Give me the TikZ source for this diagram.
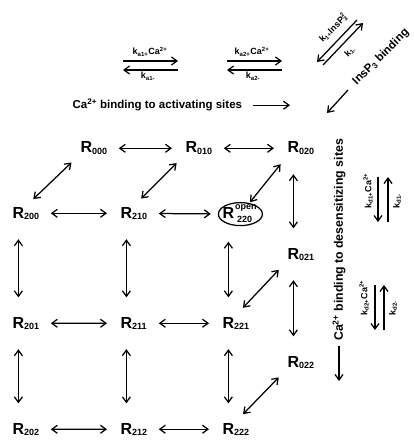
\documentclass[tikz,border=0pt]{standalone}
\usepackage{fontspec}
\setmainfont{Liberation Sans}
\usetikzlibrary{arrows.meta,shapes.geometric}
\newcommand{\rsub}[1]{R\rlap{\raisebox{-1.5pt}{\fontsize{9}{9}\selectfont #1}}}
\begin{document}
\begin{tikzpicture}[x=1pt, y=-1pt, line width=1.25pt,
  every node/.style={font=\bfseries, inner sep=2pt},
  state/.style={anchor=base west, font=\bfseries\fontsize{16}{18}\selectfont},
  rate/.style={font=\bfseries\fontsize{9}{10}\selectfont, inner sep=1pt},
  bigtext/.style={font=\bfseries\fontsize{11.5}{13}\selectfont},
  both/.style={{Straight Barb[length=5.5pt,width=8pt]}-{Straight Barb[length=5.5pt,width=8pt]}},
  fwd/.style={-{Straight Barb[length=5.5pt,width=8pt]}},
  hlink/.style={both, shorten <=24pt, shorten >=11pt},
  vlink/.style={both, shorten <=17pt, shorten >=17pt},
  dlink/.style={both, shorten <=9pt, shorten >=9pt},
  openring/.style={draw, ellipse, minimum width=44pt, minimum height=23pt, inner sep=0pt}]
\useasboundingbox (0,0) rectangle (413,446);
% states
\node[state] (R000) at (78,153) {\rsub{000}};
\node[state] (R010) at (183,153) {\rsub{010}};
\node[state] (R020) at (285,153) {\rsub{020}};
\node[state] (R200) at (10,218) {\rsub{200}};
\node[state] (R210) at (118,218) {\rsub{210}};
\node[state] (R220) at (220,218) {R\rlap{\fontsize{9}{9}\selectfont\hspace{1pt}\raisebox{9pt}{open}}\rlap{\fontsize{9}{9}\selectfont\hspace{3pt}\raisebox{-4pt}{220}}};
\node[openring] (open) at ([xshift=12pt,yshift=-1pt]R220.center) {};
\node[state] (R021) at (285,259) {\rsub{021}};
\node[state] (R201) at (10,328) {\rsub{201}};
\node[state] (R211) at (118,328) {\rsub{211}};
\node[state] (R221) at (220,328) {\rsub{221}};
\node[state] (R022) at (285,367) {\rsub{022}};
\node[state] (R202) at (10,434) {\rsub{202}};
\node[state] (R212) at (118,434) {\rsub{212}};
\node[state] (R222) at (220,434) {\rsub{222}};
% transitions
\draw[hlink] (R000) -- (R010);
\draw[hlink] (R010) -- (R020);
\draw[hlink] (R200) -- (R210);
\draw[hlink, shorten >=7pt] (R210) -- (open);
\draw[hlink] (R201) -- (R211);
\draw[hlink] (R211) -- (R221);
\draw[hlink] (R202) -- (R212);
\draw[hlink] (R212) -- (R222);
\draw[vlink] (R200) -- (R201);
\draw[vlink] (R201) -- (R202);
\draw[vlink] (R210) -- (R211);
\draw[vlink] (R211) -- (R212);
\draw[vlink] (R220) -- (R221);
\draw[vlink] (R221) -- (R222);
\draw[vlink] (R020) -- (R021);
\draw[vlink] (R021) -- (R022);
\draw[dlink] (R000) -- (R200);
\draw[dlink] (R010) -- (R210);
\draw[dlink, shorten >=1pt] (R020) -- (open);
\draw[dlink] (R021) -- (R221);
\draw[dlink] (R022) -- (R222);
% rate constants, activating sites
\coordinate (ka1w) at (123,61); \coordinate (ka1e) at (178,61);
\coordinate (ka1w') at (123,70); \coordinate (ka1e') at (178,70);
\coordinate (ka2w) at (227,61); \coordinate (ka2e) at (282,61);
\coordinate (ka2w') at (227,70); \coordinate (ka2e') at (282,70);
\draw[fwd] (ka1w) -- (ka1e);
\draw[fwd] (ka1e') -- (ka1w');
\draw[fwd] (ka2w) -- (ka2e);
\draw[fwd] (ka2e') -- (ka2w');
\node[rate, anchor=base] (ka1on) at (150,55) {k\textsubscript{a1+}Ca\textsuperscript{2+}};
\node[rate, anchor=base] (ka1off) at (148,79) {k\textsubscript{a1-}};
\node[rate, anchor=base] (ka2on) at (252,55) {k\textsubscript{a2+}Ca\textsuperscript{2+}};
\node[rate, anchor=base] (ka2off) at (253,79) {k\textsubscript{a2-}};
\node[bigtext, anchor=base west] (actlbl) at (70,109) {Ca\textsuperscript{2+} binding to activating sites};
\coordinate (actend) at (290,105);
\draw[fwd, shorten <=8pt] (actlbl.east) -- (actlbl.east -| actend);
% InsP3 binding
\coordinate (k1a) at (357,20); \coordinate (k1b) at (317,62);
\coordinate (k1c) at (323,65); \coordinate (k1d) at (363,23);
\draw[fwd] (k1a) -- (k1b);
\draw[fwd] (k1c) -- (k1d);
\node[rate, rotate=45] (k1on) at (333,28) {k\textsubscript{1+}InsP\rlap{\textsuperscript{2}}\textsubscript{3}};
\node[rate, rotate=45] (k1off) at (350,52) {k\textsubscript{1-}};
\node[bigtext, rotate=45] (insp) at (381,57) {InsP\textsubscript{3} binding};
\coordinate (ipa) at (348,90); \coordinate (ipb) at (327,113);
\draw[fwd] (ipa) -- (ipb);
% desensitizing sites
\node[bigtext, rotate=90, font=\bfseries\fontsize{12.3}{14}\selectfont] (desens) at (339,240) {Ca\textsuperscript{2+} binding to desensitizing sites};
\coordinate (desend) at (340,381);
\draw[fwd, shorten <=3pt] (desens.west) -- (desens.west |- desend);
\coordinate (kd1a) at (378,177); \coordinate (kd1b) at (378,222);
\coordinate (kd1c) at (388,222); \coordinate (kd1d) at (388,177);
\draw[fwd] (kd1a) -- (kd1b);
\draw[fwd] (kd1c) -- (kd1d);
\node[rate, rotate=90] (kd1on) at (368,191) {k\textsubscript{d1+}Ca\textsuperscript{2+}};
\node[rate, rotate=90] (kd1off) at (397,201) {k\textsubscript{d1-}};
\coordinate (kd2a) at (375,285); \coordinate (kd2b) at (375,330);
\coordinate (kd2c) at (384,330); \coordinate (kd2d) at (384,285);
\draw[fwd] (kd2a) -- (kd2b);
\draw[fwd] (kd2c) -- (kd2d);
\node[rate, rotate=90] (kd2on) at (364,298) {k\textsubscript{d2+}Ca\textsuperscript{2+}};
\node[rate, rotate=90] (kd2off) at (393,308) {k\textsubscript{d2-}};
\end{tikzpicture}
\end{document}
